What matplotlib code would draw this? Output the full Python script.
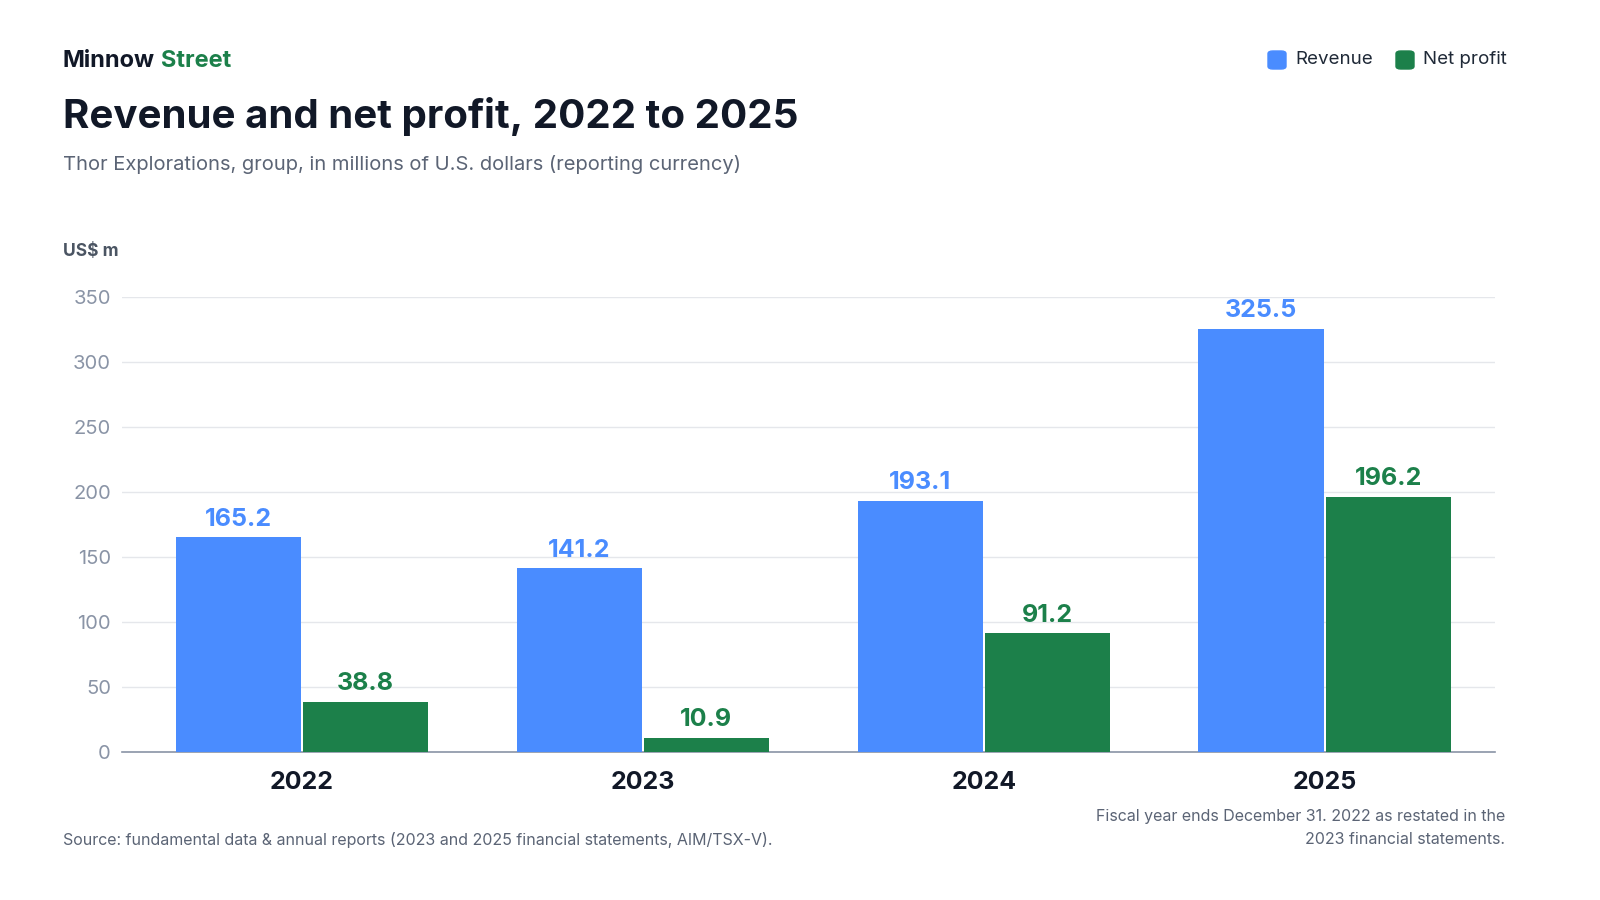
import matplotlib.pyplot as plt
import numpy as np
from matplotlib.patches import FancyBboxPatch

plt.rcParams['font.family'] = ['Inter', 'DejaVu Sans']

years = ['2022', '2023', '2024', '2025']
revenue = [165.2, 141.2, 193.1, 325.5]
net_profit = [38.8, 10.9, 91.2, 196.2]
yticks = [0, 50, 100, 150, 200, 250, 300, 350]

blue = '#4a8cff'
green = '#1c804a'

fig = plt.figure(figsize=(16, 9), dpi=100)
ax = fig.add_axes([122/1600, 1 - 752/900, 1373/1600, 455/900])

x = np.arange(len(years))
w = 0.367
gap = 0.003
ax.bar(x - w/2 - gap, revenue, w, color=blue, zorder=3)
ax.bar(x + w/2 + gap, net_profit, w, color=green, zorder=3)
for xi, r, p in zip(x, revenue, net_profit):
    ax.text(xi - w/2 - gap, r + 5, f'{r:.1f}', ha='center', va='bottom',
            color=blue, fontsize=18, fontweight='bold')
    ax.text(xi + w/2 + gap, p + 5, f'{p:.1f}', ha='center', va='bottom',
            color=green, fontsize=18, fontweight='bold')

ax.set_xlim(-0.528, 3.5)
ax.set_ylim(0, 350)
ax.set_yticks(yticks)
ax.set_yticklabels([str(v) for v in yticks], color='#8a94a6', fontsize=14.5)
ax.set_xticks(x)
ax.set_xticklabels(years, fontsize=18, fontweight='bold', color='#111827')
ax.tick_params(axis='both', length=0)
ax.tick_params(axis='y', pad=8)
ax.tick_params(axis='x', pad=14)
ax.grid(axis='y', color='#e5e7eb', linewidth=1, zorder=0)
for s in ['top', 'right', 'left']:
    ax.spines[s].set_visible(False)
ax.spines['bottom'].set_color('#8a94a6')
ax.spines['bottom'].set_linewidth(1.2)

fig.text(63/1600, 1 - 61/900, 'Minnow', fontsize=17, fontweight='bold', color='#111827', va='center')
fig.text(161/1600, 1 - 61/900, 'Street', fontsize=17, fontweight='bold', color=green, va='center')
fig.text(63/1600, 1 - 116/900, 'Revenue and net profit, 2022 to 2025', fontsize=29,
         fontweight='bold', color='#111827', va='center')
fig.text(63/1600, 1 - 165/900, 'Thor Explorations, group, in millions of U.S. dollars (reporting currency)',
         fontsize=14.5, color='#5b6475', va='center')
fig.text(63/1600, 1 - 252/900, 'US$ m', fontsize=12.5, fontweight='bold', color='#4b5563', va='center')

# legend
for x0, col in [(1268, blue), (1396, green)]:
    fig.patches.append(FancyBboxPatch((x0/1600, 1 - 69/900), 18/1600, 18/900,
                                      boxstyle='round,pad=0,rounding_size=0.003',
                                      transform=fig.transFigure, color=col))
fig.text(1295/1600, 1 - 60/900, 'Revenue', fontsize=13.5, color='#1f2937', va='center')
fig.text(1423/1600, 1 - 60/900, 'Net profit', fontsize=13.5, color='#1f2937', va='center')

fig.text(63/1600, 1 - 840/900,
         'Source: fundamental data & annual reports (2023 and 2025 financial statements, AIM/TSX-V).',
         fontsize=11.5, color='#5b6475', va='center')
fig.text(1505/1600, 1 - 828/900,
         'Fiscal year ends December 31. 2022 as restated in the\n2023 financial statements.',
         fontsize=11.5, color='#5b6475', va='center', ha='right', linespacing=1.6)

fig.savefig('out.png', dpi=100)
